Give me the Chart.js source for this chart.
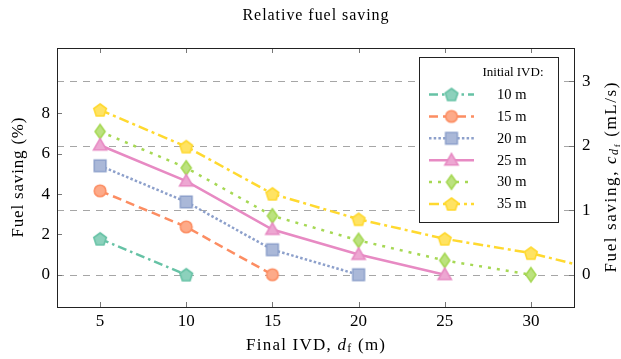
<!DOCTYPE html>
<html lang="en">
<head>
  <meta charset="UTF-8">
  <title>Relative fuel saving</title>
  <script src="https://cdn.jsdelivr.net/npm/chart.js"></script>
  <style>
    html, body { margin: 0; padding: 0; background: #fff; }
    #wrap { width: 621px; height: 359px; position: relative; }
  </style>
</head>
<body>
  <div id="wrap"><canvas id="fuelChart" width="621" height="359"></canvas></div>

  <script>
    // final IVD (m) on x, fuel saving (%) on the left axis
    const finalIvd = [5, 10, 15, 20, 25, 30, 35];
    const saving10 = [1.78, 0];
    const saving15 = [4.16, 2.37, 0];
    const saving20 = [5.40, 3.61, 1.24, 0];
    const saving25 = [6.42, 4.64, 2.24, 1.00, 0];
    const saving30 = [7.10, 5.30, 2.92, 1.70, 0.71, 0];
    const saving35 = [8.17, 6.35, 4.01, 2.75, 1.78, 1.07, 0];
    const initialIvd = ['10 m', '15 m', '20 m', '25 m', '30 m', '35 m'];
    const xTicks = [5, 10, 15, 20, 25, 30];
    const leftTicks = [0, 2, 4, 6, 8];
    const rightTicks = [0, 1, 2, 3];

    const series = [saving10, saving15, saving20, saving25, saving30, saving35];
    const colors = ['#66c2a5', '#fc8d62', '#8da0cb', '#e78ac3', '#a6d854', '#ffd92f'];
    const shapes = ['pentagon', 'circle', 'square', 'triangle', 'diamond', 'pentagon'];
    const dashes = [[9, 4, 2.5, 4], [9, 5], [2.5, 2.2], [], [3, 6], [10, 4, 3, 4]];

    const SERIF = '"Liberation Serif", "DejaVu Serif", serif';
    const percentPerRate = 3.2; // left % per mL/s on the right axis
    const leftMin = -1.6, leftMax = 11.24;

    // lighten a hex colour toward white
    function lighten(hex, t) {
      const n = parseInt(hex.slice(1), 16);
      const r = (n >> 16) & 255, g = (n >> 8) & 255, b = n & 255;
      const m = v => Math.round(v + (255 - v) * t);
      return `rgb(${m(r)}, ${m(g)}, ${m(b)})`;
    }

    // marker glyphs drawn on small canvases, used as pointStyle
    function makeMarker(shape, color) {
      const size = 20;
      const c = document.createElement('canvas');
      c.width = size; c.height = size;
      const g = c.getContext('2d');
      const cx = size / 2, cy = size / 2;
      g.beginPath();
      if (shape === 'pentagon') {
        const r = 6.6;
        for (let i = 0; i < 5; i++) {
          const a = -Math.PI / 2 + i * 2 * Math.PI / 5;
          const px = cx + r * Math.cos(a), py = cy + 0.6 + r * Math.sin(a);
          if (i === 0) g.moveTo(px, py); else g.lineTo(px, py);
        }
        g.closePath();
      } else if (shape === 'circle') {
        g.arc(cx, cy, 5.8, 0, Math.PI * 2);
      } else if (shape === 'square') {
        g.rect(cx - 5.8, cy - 5.8, 11.6, 11.6);
      } else if (shape === 'triangle') {
        const r = 7.6;
        g.moveTo(cx, cy - r + 1);
        g.lineTo(cx + r * 0.866, cy + r * 0.5 + 1);
        g.lineTo(cx - r * 0.866, cy + r * 0.5 + 1);
        g.closePath();
      } else if (shape === 'diamond') {
        g.moveTo(cx, cy - 7);
        g.lineTo(cx + 5, cy);
        g.lineTo(cx, cy + 7);
        g.lineTo(cx - 5, cy);
        g.closePath();
      }
      g.fillStyle = lighten(color, 0.25);
      g.fill();
      g.lineWidth = 1.6;
      g.strokeStyle = color;
      g.stroke();
      return c;
    }

    const markers = shapes.map((s, i) => makeMarker(s, colors[i]));

    const datasets = series.map((vals, i) => ({
      label: initialIvd[i],
      data: vals.map((v, j) => ({ x: finalIvd[j], y: v })),
      yAxisID: 'y',
      borderColor: colors[i],
      backgroundColor: colors[i],
      borderWidth: 2.5,
      borderDash: dashes[i],
      pointStyle: markers[i],
      pointRadius: 7,
      pointHoverRadius: 7,
      tension: 0,
      fill: false
    }));

    // text made of parts with their own font and baseline shift,
    // drawn letter by letter so it can be spread to a given width
    function drawRich(ctx, parts, x, y, angle, width) {
      ctx.save();
      ctx.translate(x, y);
      ctx.rotate(angle || 0);
      let natural = 0, count = 0;
      parts.forEach(p => {
        ctx.font = p.font;
        natural += ctx.measureText(p.text).width;
        count += p.text.length;
      });
      const gap = width ? (width - natural) / Math.max(count - 1, 1) : 0;
      const total = natural + gap * (count - 1);
      let cx = -total / 2;
      ctx.textBaseline = 'middle';
      ctx.textAlign = 'left';
      ctx.fillStyle = '#000';
      parts.forEach(p => {
        ctx.font = p.font;
        for (const ch of p.text) {
          ctx.fillText(ch, cx, p.dy || 0);
          cx += ctx.measureText(ch).width + gap;
        }
      });
      ctx.restore();
    }

    const framePlugin = {
      id: 'frame',
      beforeDatasetsDraw(chart) {
        const { ctx, chartArea: a } = chart;
        const s = chart.scales.y2;
        ctx.save();
        ctx.strokeStyle = '#a6a6a6';
        ctx.lineWidth = 1;
        ctx.setLineDash([7, 6]);
        rightTicks.forEach(v => {
          const y = Math.round(s.getPixelForValue(v)) + 0.5;
          ctx.beginPath();
          ctx.moveTo(a.left, y);
          ctx.lineTo(a.right, y);
          ctx.stroke();
        });
        ctx.restore();
      },
      afterDatasetsDraw(chart) {
        const { ctx, chartArea: a } = chart;
        const sx = chart.scales.x, sy = chart.scales.y, sy2 = chart.scales.y2;
        ctx.save();
        ctx.strokeStyle = '#777';
        ctx.lineWidth = 1;
        const tick = 5;
        xTicks.forEach(v => {
          const x = Math.round(sx.getPixelForValue(v)) + 0.5;
          ctx.beginPath();
          ctx.moveTo(x, a.bottom); ctx.lineTo(x, a.bottom - tick);
          ctx.moveTo(x, a.top); ctx.lineTo(x, a.top + tick);
          ctx.stroke();
        });
        leftTicks.forEach(v => {
          const y = Math.round(sy.getPixelForValue(v)) + 0.5;
          ctx.beginPath();
          ctx.moveTo(a.left, y); ctx.lineTo(a.left + tick, y);
          ctx.stroke();
        });
        rightTicks.forEach(v => {
          const y = Math.round(sy2.getPixelForValue(v)) + 0.5;
          ctx.beginPath();
          ctx.moveTo(a.right, y); ctx.lineTo(a.right - tick, y);
          ctx.stroke();
        });
        ctx.strokeStyle = '#222';
        ctx.strokeRect(Math.round(a.left) + 0.5, Math.round(a.top) + 0.5,
          Math.round(a.right - a.left), Math.round(a.bottom - a.top));
        ctx.restore();
      },
      afterDraw(chart) {
        const { ctx, chartArea: a } = chart;
        const midX = (a.left + a.right) / 2, midY = (a.top + a.bottom) / 2;

        // title and axis titles
        drawRich(ctx, [{ text: 'Relative fuel saving', font: '16px ' + SERIF }], midX, 16, 0, 146);
        drawRich(ctx, [
          { text: 'Final IVD, ', font: '17px ' + SERIF },
          { text: 'd', font: 'italic 17px ' + SERIF },
          { text: 'f', font: '12px ' + SERIF, dy: 3 },
          { text: ' (m)', font: '17px ' + SERIF }
        ], midX, 346, 0, 139);
        drawRich(ctx, [{ text: 'Fuel saving (%)', font: '17px ' + SERIF }], 19, midY, -Math.PI / 2, 120);
        drawRich(ctx, [
          { text: 'Fuel saving, ', font: '17px ' + SERIF },
          { text: 'c', font: 'italic 17px ' + SERIF },
          { text: 'd', font: 'italic 12px ' + SERIF, dy: 3 },
          { text: 'f', font: '9px ' + SERIF, dy: 6 },
          { text: ' (mL/s)', font: '17px ' + SERIF }
        ], 612, midY, -Math.PI / 2, 190);

        // legend box inside the plot
        const bx = 419, by = 57, bw = 139, bh = 165;
        ctx.save();
        ctx.fillStyle = '#fff';
        ctx.fillRect(bx, by, bw, bh);
        ctx.strokeStyle = '#222';
        ctx.lineWidth = 1;
        ctx.strokeRect(bx + 0.5, by + 0.5, bw, bh);
        drawRich(ctx, [{ text: 'Initial IVD:', font: '13px ' + SERIF }], 513, 73, 0, 61);
        chart.data.datasets.forEach((ds, i) => {
          const y = 94.5 + i * 21.9;
          ctx.save();
          ctx.strokeStyle = ds.borderColor;
          ctx.lineWidth = ds.borderWidth;
          ctx.setLineDash(ds.borderDash);
          ctx.beginPath();
          ctx.moveTo(429, y);
          ctx.lineTo(474, y);
          ctx.stroke();
          ctx.restore();
          Chart.helpers.drawPoint(ctx, {
            pointStyle: ds.pointStyle, radius: ds.pointRadius, rotation: 0, borderWidth: 0
          }, 451.5, y);
          ctx.fillStyle = '#000';
          ctx.font = '14.5px ' + SERIF;
          ctx.textAlign = 'left';
          ctx.textBaseline = 'middle';
          ctx.fillText(ds.label, 497, y + 0.5);
        });
        ctx.restore();
      }
    };

    const tickFont = { family: SERIF, size: 17 };

    const chart = new Chart(document.getElementById('fuelChart'), {
      type: 'line',
      data: { datasets },
      options: {
        responsive: false,
        animation: false,
        events: [],
        layout: { padding: { top: 48, left: 0, right: 0, bottom: 0 } },
        plugins: {
          legend: { display: false },
          title: { display: false },
          tooltip: { enabled: false }
        },
        scales: {
          x: {
            type: 'linear',
            min: 2.5,
            max: 32.5,
            afterBuildTicks: s => { s.ticks = xTicks.map(v => ({ value: v })); },
            afterFit: s => { s.height = 52; },
            grid: { display: false, drawTicks: false },
            border: { display: false },
            ticks: { font: tickFont, color: '#000', padding: 4, maxRotation: 0, autoSkip: false }
          },
          y: {
            type: 'linear',
            position: 'left',
            min: leftMin,
            max: leftMax,
            afterBuildTicks: s => { s.ticks = leftTicks.map(v => ({ value: v })); },
            afterFit: s => { s.width = 57; },
            grid: { display: false, drawTicks: false },
            border: { display: false },
            ticks: { font: tickFont, color: '#000', padding: 7 }
          },
          y2: {
            type: 'linear',
            position: 'right',
            min: leftMin / percentPerRate,
            max: leftMax / percentPerRate,
            afterBuildTicks: s => { s.ticks = rightTicks.map(v => ({ value: v })); },
            afterFit: s => { s.width = 47; },
            grid: { display: false, drawTicks: false },
            border: { display: false },
            ticks: { font: tickFont, color: '#000', padding: 8 }
          }
        }
      },
      plugins: [framePlugin]
    });
  </script>
</body>
</html>
